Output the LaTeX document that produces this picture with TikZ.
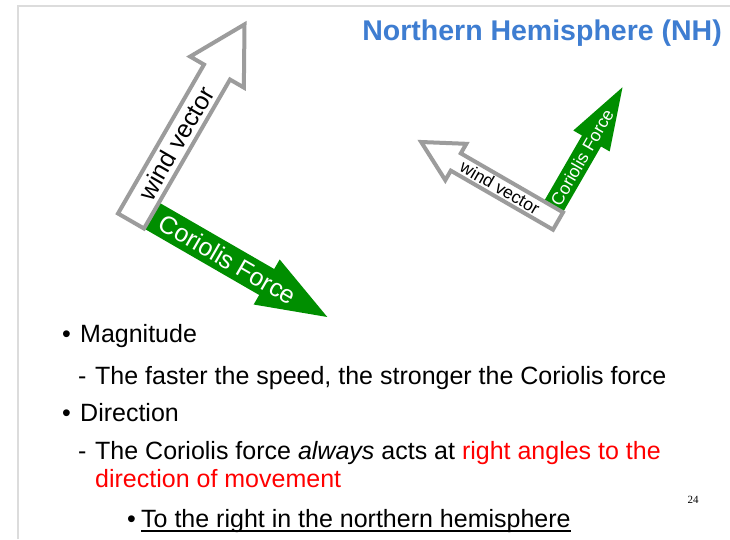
\documentclass[tikz,border=0pt]{standalone}
\usepackage{fontspec}
\setmainfont{Liberation Sans}
\newfontfamily\pagefont{Liberation Serif}
\usepackage{xcolor}
\usetikzlibrary{positioning}
\definecolor{ink}{HTML}{000000}
\definecolor{titleblue}{HTML}{3E7DD1}
\definecolor{windgray}{HTML}{9C9C9C}
\definecolor{corgreen}{HTML}{008E00}
\definecolor{framegray}{HTML}{DCDCDC}
\definecolor{hot}{HTML}{FF0000}
\newcommand{\sizept}[2]{\fontsize{#1}{#2}\selectfont}

\begin{document}
\begin{tikzpicture}[x=1pt,y=1pt,
 windarrow/.style={draw=windgray,line width=4pt,fill=white,line join=miter},
 corarrow/.style={fill=corgreen},
 lbl/.style={inner sep=0pt,text=ink},
 body/.style={anchor=base west,inner sep=0pt,text=ink,font=\sizept{25}{28}}]
\useasboundingbox (0,0) rectangle (730,-539);
\fill[white] (0,0) rectangle (730,-539);
\draw[framegray,line width=2pt] (18,-539) -- (18,-6) -- (730,-6);
\node[anchor=base east,inner sep=0pt,text=titleblue,font=\sizept{28.5}{30}\bfseries] (title) at (722,-40) {Northern Hemisphere (NH)};
% big pair: wind up to the right, force down to the right
\begin{scope}[shift={(151.5,-215.5)},rotate=-30]
 \path[corarrow] (0,-15) -- (133,-15) -- (133,-26) -- (203,0) -- (133,26) -- (133,15) -- (0,15) -- cycle;
 \node[lbl,text=white,rotate=-30,font=\sizept{25}{25}] (lcor) at (88,0) {Coriolis Force};
\end{scope}
\begin{scope}[shift={(131,-221)},rotate=60]
 \path[windarrow] (0,-15) -- (172,-15) -- (172,-31) -- (227,0) -- (172,31) -- (172,15) -- (0,15) -- cycle;
 \node[lbl,rotate=60,font=\sizept{25}{25}] (lwind) at (90,0) {wind vector};
\end{scope}
% small pair: wind up to the left, force up to the right
\begin{scope}[shift={(553.5,-206.8)},rotate=60]
 \path[corarrow] (0,-11) -- (76,-11) -- (76,-21) -- (138,0) -- (76,21) -- (76,11) -- (0,11) -- cycle;
 \node[lbl,text=white,rotate=60,font=\sizept{17.5}{17.5}] (rcor) at (57,0) {Coriolis Force};
\end{scope}
\begin{scope}[shift={(558,-221)},rotate=150]
 \path[windarrow] (0,-10) -- (118,-10) -- (118,-21) -- (158,0) -- (118,21) -- (118,10) -- (0,10) -- cycle;
 \node[lbl,rotate=-30,font=\sizept{17.5}{17.5}] (rwind) at (67,0) {wind vector};
\end{scope}
% the bullet text
\node[body] (b1) at (62,-342) {\textbullet};
\node[body] (t1) at (80,-342) {Magnitude};
\node[body] (d1) at (78,-384) {-};
\node[body] (t2) at (95,-384) {The faster the speed, the stronger the Coriolis force};
\node[body] (b2) at (62,-421) {\textbullet};
\node[body] (t3) at (80,-421) {Direction};
\node[body] (d2) at (78,-459) {-};
\node[body] (t4) at (95,-459) {The Coriolis force \textit{always} acts at \textcolor{hot}{right angles to the}};
\node[body,text=hot] (t5) at (95,-487) {direction of movement};
\node[body] (b3) at (127,-527) {\textbullet};
\node[body] (t6) at (141,-527) {To the right in the northern hemisphere};
\draw[ink,line width=1.8pt] ([yshift=-4]t6.base west) -- ([yshift=-4]t6.base east);
\node[inner sep=0pt,font=\pagefont\sizept{11}{11}] (pnum) at (693,-500) {24};
\end{tikzpicture}
\end{document}
